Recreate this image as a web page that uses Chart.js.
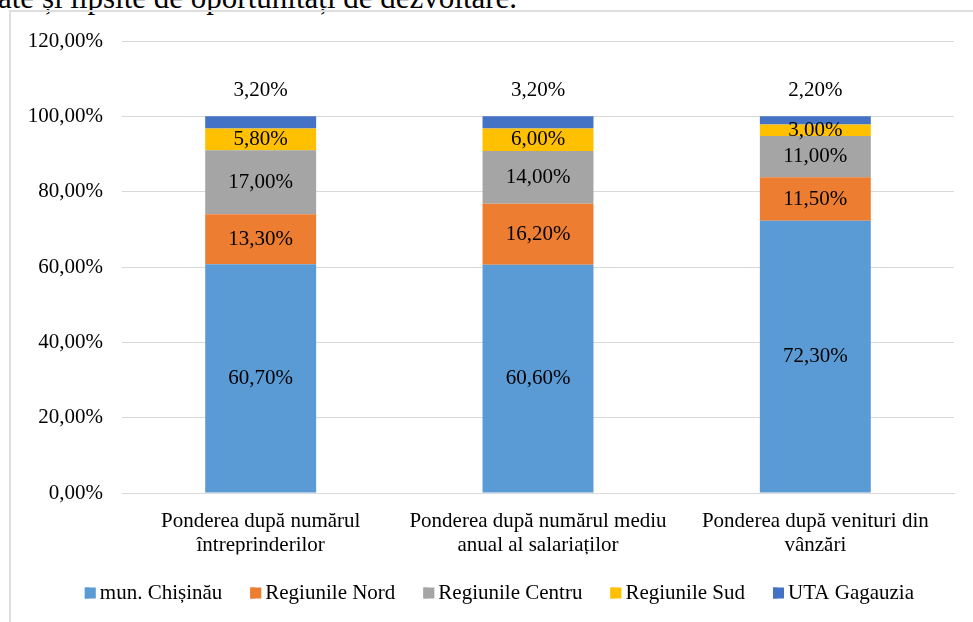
<!DOCTYPE html>
<html>
<head>
<meta charset="utf-8">
<script src="https://cdn.jsdelivr.net/npm/chart.js@4.4.0/dist/chart.umd.min.js"></script>
<style>
  html, body { margin: 0; padding: 0; background: #fff; overflow: hidden; }
  #page { position: relative; width: 973px; height: 622px; overflow: hidden; }
  #heading {
    position: absolute; left: -2px; top: -16px; white-space: nowrap;
    font: 31px/28px "Liberation Serif", "Times New Roman", serif; color: #000;
  }
  #frame {
    position: absolute; left: 9px; top: 10px; width: 1000px; height: 700px;
    border-left: 2px solid #dedede; border-top: 2px solid #dedede;
  }
  #wrap { position: absolute; left: 0; top: 0; width: 973px; height: 622px; }
</style>
</head>
<body>
<div id="page">
  <div id="heading">ate și lipsite de oportunități de dezvoltare.</div>
  <div id="frame"></div>
  <div id="wrap"><canvas id="myChart"></canvas></div>
</div>
<script>
// categories (two lines each, as in the original)
const categories = [
    ['Ponderea după numărul', 'întreprinderilor'],
    ['Ponderea după numărul mediu', 'anual al salariaților'],
    ['Ponderea după venituri din', 'vânzări']
];

// series values, in %
const chisinau = [60.7, 60.6, 72.3];
const nord = [13.3, 16.2, 11.5];
const centru = [17.0, 14.0, 11.0];
const sud = [5.8, 6.0, 3.0];
const gagauzia = [3.2, 3.2, 2.2];

const seriesNames = ['mun. Chișinău', 'Regiunile Nord', 'Regiunile Centru', 'Regiunile Sud', 'UTA Gagauzia'];
const seriesColors = ['#5B9BD5', '#ED7D31', '#A5A5A5', '#FFC000', '#4472C4'];

// y axis ticks
const yMin = 0;
const yMax = 120;
const yStep = 20;

const FONT = '"Liberation Serif", "Times New Roman", serif';

function fmt(v) {
    return Number(v).toFixed(2).replace('.', ',') + '%';
}

// draws the value labels (no datalabels plugin available)
const valueLabels = {
    id: 'valueLabels',
    afterDatasetsDraw(chart) {
        const ctx = chart.ctx;
        const last = chart.data.datasets.length - 1;
        ctx.save();
        ctx.font = '21px ' + FONT;
        ctx.fillStyle = '#000';
        ctx.textAlign = 'center';
        ctx.textBaseline = 'middle';
        chart.data.datasets.forEach(function(ds, i) {
            const meta = chart.getDatasetMeta(i);
            meta.data.forEach(function(bar, j) {
                let y = (bar.y + bar.base) / 2;
                if (i === last) y = bar.y - 26;
                ctx.fillText(fmt(ds.data[j]), bar.x, y);
            });
        });
        ctx.restore();
    }
};

// legend sits a bit right of centre, and its squares are close to the text:
// chart.js box is kept narrow and a full 11x11 square is painted over it
const legendTweak = {
    id: 'legendTweak',
    afterLayout(chart) {
        chart.legend.left += 13.4;
        chart.legend.right += 13.4;
    },
    afterDraw(chart) {
        const legend = chart.legend;
        const ctx = chart.ctx;
        ctx.save();
        legend.legendHitBoxes.forEach(function(hb, i) {
            ctx.fillStyle = seriesColors[i];
            ctx.fillRect(hb.left, hb.top + (hb.height - 11) / 2, 11, 11);
        });
        ctx.restore();
    }
};

const seriesData = [chisinau, nord, centru, sud, gagauzia];

const ctx = document.getElementById('myChart');
const myChart = new Chart(ctx, {
    type: 'bar',
    data: {
        labels: categories,
        datasets: seriesData.map(function(d, i) {
            return {
                label: seriesNames[i],
                data: d,
                backgroundColor: seriesColors[i],
                borderWidth: 0,
                categoryPercentage: 1.0,
                barPercentage: 0.4
            };
        })
    },
    options: {
        responsive: true,
        maintainAspectRatio: false,
        animation: false,
        layout: {
            padding: { left: 18, right: 19, top: 41, bottom: 8.5 }
        },
        plugins: {
            tooltip: { enabled: false },
            legend: {
                position: 'bottom',
                labels: {
                    boxWidth: 4.5,
                    boxHeight: 11,
                    padding: 28,
                    color: '#000',
                    font: { family: FONT, size: 21 }
                }
            }
        },
        scales: {
            x: {
                stacked: true,
                grid: { display: false, drawTicks: false },
                border: { display: true, color: '#d9d9d9', width: 1 },
                ticks: {
                    color: '#000',
                    padding: 16,
                    maxRotation: 0,
                    autoSkip: false,
                    font: { family: FONT, size: 21, lineHeight: '24px' }
                },
                afterFit: function(scale) { scale.height = 61.5; }
            },
            y: {
                stacked: true,
                min: yMin,
                max: yMax,
                grid: { color: '#d9d9d9', lineWidth: 1, drawTicks: false },
                border: { display: false },
                ticks: {
                    stepSize: yStep,
                    color: '#000',
                    padding: 19,
                    font: { family: FONT, size: 21 },
                    callback: function(v) { return fmt(v); }
                },
                afterFit: function(scale) { scale.width = 104; }
            }
        }
    },
    plugins: [valueLabels, legendTweak]
});
</script>
</body>
</html>
